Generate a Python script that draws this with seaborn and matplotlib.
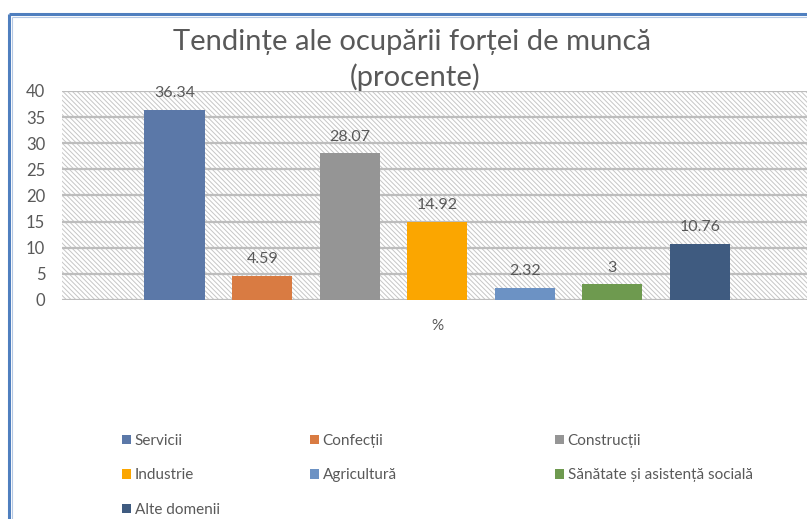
"""
Tendințe ale ocupării forței de muncă (procente) - bare grupate pe o singură categorie.
"""
import matplotlib
matplotlib.use("Agg")
import matplotlib.pyplot as plt
from matplotlib.patches import Rectangle
from matplotlib.lines import Line2D
import seaborn as sns
import pandas as pd

CATEGORII = ["Servicii", "Confecții", "Construcții", "Industrie",
             "Agricultură", "Sănătate și asistență socială", "Alte domenii"]
VALORI = [36.34, 4.59, 28.07, 14.92, 2.32, 3, 10.76]
CULORI = ["#5b78a8", "#d97b42", "#959595", "#fba600",
          "#6c92c4", "#6e9a4f", "#3f5b80"]
GRUPA = ["%"] * len(CATEGORII)
TITLU = ["Tendințe ale ocupării forței de muncă", "(procente)"]
YTICKS = [0, 5, 10, 15, 20, 25, 30, 35, 40]

GRI = "#595959"

sns.set_theme(style="white")
plt.rcParams["font.family"] = ["Lato", "DejaVu Sans"]
plt.rcParams["hatch.linewidth"] = 0.7


def main():
    df = pd.DataFrame({"grupa": GRUPA, "categorie": CATEGORII, "valoare": VALORI})

    fig = plt.figure(figsize=(8.07, 5.19), dpi=100, facecolor="white")
    ax = fig.add_axes([0.0768, 0.422, 0.93, 0.4027])

    # fundal hașurat al zonei de desen
    ax.add_patch(Rectangle((0, 0), 1, 1, transform=ax.transAxes, facecolor="white",
                           edgecolor="#c6c6c6", hatch="\\" * 7, linewidth=0, zorder=0.1))

    sns.barplot(df, x="grupa", y="valoare", hue="categorie", palette=CULORI,
                hue_order=CATEGORII, gap=0.31, saturation=1, legend=False, ax=ax,
                edgecolor="none", zorder=2)

    for cont, v in zip(ax.containers, VALORI):
        ax.bar_label(cont, labels=[f"{v:g}"], padding=7, fontsize=11.5, color=GRI)

    ax.set_ylim(0, 40)
    ax.set_xlim(-0.49, 0.49)
    ax.set_yticks(YTICKS)
    for y in YTICKS:
        ax.axhline(y, color="#bdbdbd", lw=1.6, zorder=0.5)
    ax.set(xlabel="", ylabel="")
    ax.tick_params(axis="y", length=0, pad=12, labelsize=12, labelcolor=GRI)
    ax.tick_params(axis="x", length=0, pad=14, labelsize=11, labelcolor=GRI)
    sns.despine(ax=ax, left=True, bottom=True)

    # titlul pe două rânduri, ca în Excel
    fig.text(0.51, 1 - 42 / 519, TITLU[0], ha="center", va="center", fontsize=21, color=GRI)
    fig.text(0.515, 1 - 77 / 519, TITLU[1], ha="center", va="center", fontsize=21, color=GRI)

    # legenda pe trei coloane, rânduri ca în Excel
    handles = [Rectangle((0, 0), 1, 1, facecolor=c, edgecolor="none") for c in CULORI]
    coloane = [([0, 3, 6], 114 / 807), ([1, 4], 302 / 807), ([2, 5], 547 / 807)]
    for idx, x0 in coloane:
        fig.legend([handles[i] for i in idx], [CATEGORII[i] for i in idx],
                   loc="upper left", bbox_to_anchor=(x0, 0.179), frameon=False,
                   borderpad=0, handlelength=0.6, handleheight=0.6, handletextpad=0.25,
                   labelspacing=1.35, fontsize=11, labelcolor=GRI)

    # chenarul albastru din captură
    kw = dict(transform=fig.transFigure, solid_capstyle="butt")
    fig.add_artist(Line2D([8.5 / 807, 1.02], [1 - 14 / 519] * 2, color="#4f7fbf", lw=2.2, **kw))
    fig.add_artist(Line2D([9 / 807] * 2, [-0.02, 1 - 14 / 519], color="#4f7fbf", lw=2.2, **kw))
    fig.add_artist(Line2D([12 / 807] * 2, [-0.02, 1 - 16.5 / 519], color="#b4c8e4", lw=0.8, **kw))
    fig.add_artist(Line2D([12 / 807, 1.02], [1 - 16.5 / 519] * 2, color="#b4c8e4", lw=0.8, **kw))

    fig.savefig("out.png", dpi=100)
    plt.close(fig)


if __name__ == "__main__":
    main()
